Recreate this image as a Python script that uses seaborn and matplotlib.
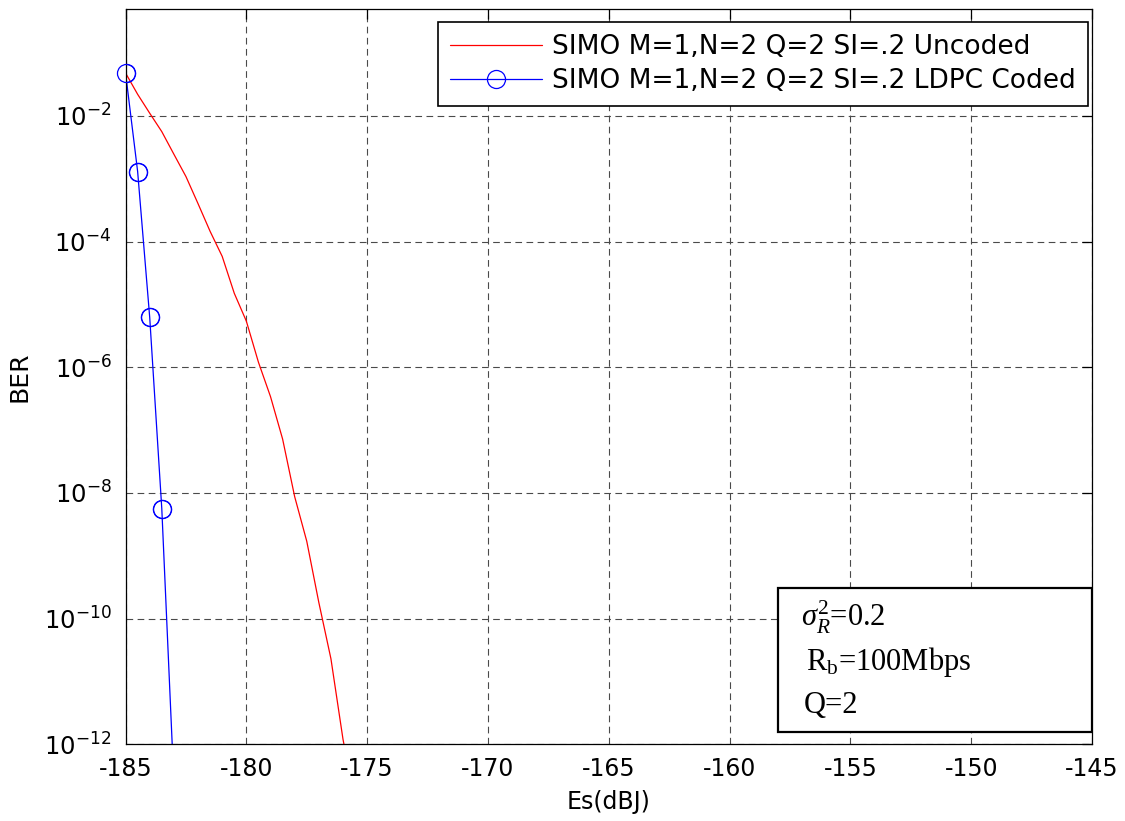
import numpy as np
import pandas as pd
import matplotlib
matplotlib.use("Agg")
import matplotlib.pyplot as plt
import seaborn as sns
from matplotlib.ticker import FixedLocator, FuncFormatter, NullLocator
from matplotlib.patches import Rectangle

# ---------------- data ----------------
es_uncoded = [-185, -184.5, -184, -183.5, -183, -182.5, -182, -181.5, -181, -180.5,
              -180, -179.5, -179, -178.5, -178, -177.5, -177, -176.5, -176, -175.5]
ber_uncoded = [4.8e-2, 2.2e-2, 1.1e-2, 5.6e-3, 2.45e-3, 1.08e-3, 4.0e-4, 1.45e-4, 5.8e-5, 1.5e-5,
               5.4e-6, 1.2e-6, 3.4e-7, 7.2e-8, 8.7e-9, 1.7e-9, 1.8e-10, 2.3e-11, 1.2e-12, 1.2e-13]

es_coded = [-185, -184.5, -184, -183.5, -183]
ber_coded = [4.8e-2, 1.3e-3, 6.2e-6, 5.6e-9, 2.5e-13]

label_uncoded = "SIMO M=1,N=2 Q=2 SI=.2 Uncoded"
label_coded = "SIMO M=1,N=2 Q=2 SI=.2 LDPC Coded"

x_ticks = [-185, -180, -175, -170, -165, -160, -155, -150, -145]
y_ticks = [1e-12, 1e-10, 1e-8, 1e-6, 1e-4, 1e-2]
x_lim = (-185, -145)
y_lim = (1e-12, 0.5)

info_lines = [r"$\sigma_R^2$=0.2", r"R$_{\mathrm{b}}$=100Mbps", "Q=2"]

# ---------------- style ----------------
sns.set_style("white")
plt.rcParams.update({
    "font.family": ["DejaVu Sans"],
    "axes.unicode_minus": False,
    "mathtext.fontset": "custom",
    "mathtext.rm": "Liberation Serif",
    "mathtext.it": "Liberation Serif:italic",
    "mathtext.sf": "DejaVu Sans",
    "axes.edgecolor": "black",
    "axes.linewidth": 0.9,
    "text.color": "black",
    "axes.labelcolor": "black",
    "xtick.color": "black",
    "ytick.color": "black",
    "legend.labelcolor": "black",
})

fig = plt.figure(figsize=(11.25, 8.21), dpi=100)
ax = fig.add_axes([0.1116, 0.0934, 0.9707 - 0.1116, 0.989 - 0.0934])
ax.set_yscale("log")

sns.lineplot(x=es_uncoded, y=ber_uncoded, color="red", lw=0.9,
             label=label_uncoded, ax=ax, sort=False)
sns.lineplot(x=es_coded, y=ber_coded, color="blue", lw=0.9, marker="o",
             markersize=13, markerfacecolor="none", markeredgecolor="blue",
             markeredgewidth=0.9, label=label_coded, ax=ax, sort=False)

# markers drawn unclipped (as MATLAB does) for points inside the y range
vis = [(x, y) for x, y in zip(es_coded, ber_coded) if y >= y_lim[0]]
sns.lineplot(x=[v[0] for v in vis], y=[v[1] for v in vis], ax=ax, sort=False,
             linestyle="none", marker="o", markersize=13, markerfacecolor="none",
             markeredgecolor="blue", markeredgewidth=0.9, clip_on=False,
             legend=False, zorder=4)

ax.set_xlim(*x_lim)
ax.set_ylim(*y_lim)
ax.xaxis.set_major_locator(FixedLocator(x_ticks))
ax.yaxis.set_major_locator(FixedLocator(y_ticks))
ax.yaxis.set_minor_locator(NullLocator())
ax.yaxis.set_major_formatter(FuncFormatter(
    lambda v, p: r"$\mathsf{10^{%d}}$" % int(round(np.log10(v)))))
ax.xaxis.set_major_formatter(FuncFormatter(lambda v, p: "%d" % v))

ax.grid(True, which="major", color="#4a4a4a", lw=0.8, ls=(0, (6, 4)))
ax.tick_params(axis="both", which="major", direction="in", length=7, width=0.9,
               top=True, right=True, colors="black")
ax.tick_params(axis="x", labelsize=17, pad=9)
ax.tick_params(axis="y", labelsize=17.5, pad=10)
for s in ax.spines.values():
    s.set_visible(True)
    s.set_color("black")

ax.set_xlabel("Es(dBJ)", fontsize=17, color="black")
ax.set_ylabel("BER", fontsize=18, color="black")
ax.xaxis.set_label_coords(0.5, -0.062)
ax.yaxis.set_label_coords(-0.097, 0.5)

leg = ax.legend(loc="upper right", bbox_to_anchor=(0.9959, 0.9819),
                borderaxespad=0, frameon=True, fancybox=False, edgecolor="black",
                framealpha=1, fontsize=19, handlelength=3.5, handletextpad=0.4,
                labelspacing=0.3, borderpad=0.45, labelcolor="black")
leg.get_frame().set_linewidth(1.2)

# annotation box
ax.add_patch(Rectangle((0.675, 0.0167), 0.325, 0.1959, transform=ax.transAxes,
                       facecolor="white", edgecolor="black", lw=1.6, zorder=5))
ys = [0.172, 0.112, 0.0534]
xs = [0.699, 0.704, 0.702]
for t, x, y in zip(info_lines, xs, ys):
    ax.text(x, y, t, transform=ax.transAxes, fontsize=22, ha="left", va="center",
            family=["Liberation Serif"], color="black", zorder=6)

fig.savefig("out.png", dpi=100)
